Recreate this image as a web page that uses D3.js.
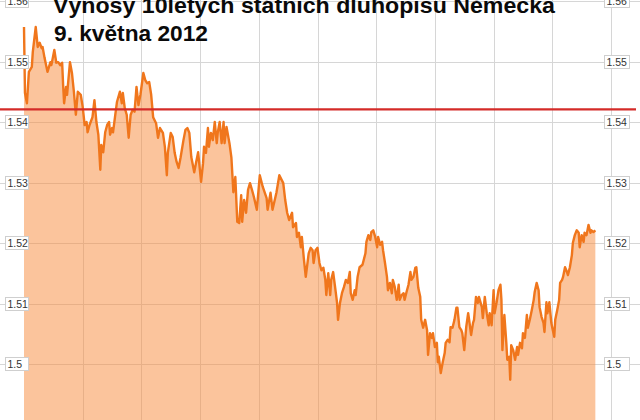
<!DOCTYPE html>
<html>
<head>
<meta charset="utf-8">
<script src="https://cdn.jsdelivr.net/npm/d3@7"></script>
<style>
  html, body { margin: 0; padding: 0; background: #fff; }
  svg { display: block; }
  text { font-family: "Liberation Sans", Arial, sans-serif; }
</style>
</head>
<body>
<div id="chart"></div>
<script>
// ---- data ----
const titleLines = ["Výnosy 10letých státních dluhopisů Německa", "9. května 2012"];
const sessionDate = [2012, 4, 9];          // 9 May 2012
const sessionStartHour = 8;
const sessionEndHour = 18;
// minutes after 08:00
const minutes = [
  0,1,3,5,8,9,12,14,16,18,
  19,21,24,27,28,31,33,35,37,39,
  40,41,43,44,47,49,51,53,55,58,
  60,62,64,65,67,70,72,74,76,78,
  79,81,83,85,87,88,90,91,93,95,
  98,100,101,103,105,107,109,111,113,115,
  117,119,122,124,126,128,130,132,135,137,
  139,142,144,146,147,150,152,154,156,158,
  160,163,165,167,169,171,174,176,178,181,
  183,184,186,188,189,191,193,195,197,198,
  200,202,204,205,207,210,212,214,216,218,
  220,222,223,225,227,229,231,233,235,238,
  241,244,248,249,252,254,258,261,265,267,
  269,271,274,275,278,279,281,283,284,286,
  288,291,293,295,296,298,300,302,304,306,
  308,309,311,313,314,316,318,320,321,323,
  325,327,329,331,333,334,336,338,339,341,
  343,346,349,350,352,354,355,357,359,361,
  362,364,366,367,369,371,372,374,376,377,
  379,381,383,384,386,388,389,391,393,395,
  396,398,400,401,403,405,406,408,410,412,
  413,415,417,418,420,422,423,424,426,428,
  430,431,433,435,436,438,440,442,443,445,
  447,448,450,452,454,455,457,459,460,462,
  464,465,468,469,471,473,475,476,478,480,
  481,483,485,487,488,489,491,493,494,496,
  497,498,500,502,504,505,507,509,510,512,
  514,515,517,519,521,522,524,526,527,529,
  531,532,534,535,537,539,540,542,543,545,
  547,548,550,551,553,555,556,558,560,561,
  563,565,567,568,570,572,573,575,577,579,
  580,582,584
];
// 10-year Bund yield, %
const yields = [
  1.5557,1.5448,1.5431,1.5483,1.5491,1.5516,1.5557,1.5524,1.5531,1.5522,
  1.5524,1.5506,1.5483,1.5499,1.5494,1.5519,1.5498,1.5499,1.5494,1.5498,
  1.5461,1.5431,1.5458,1.5445,1.5499,1.5481,1.5450,1.5412,1.5450,1.5445,
  1.5425,1.5395,1.5400,1.5383,1.5395,1.5408,1.5436,1.5400,1.5379,1.5321,
  1.5362,1.5350,1.5383,1.5395,1.5400,1.5379,1.5390,1.5383,1.5408,1.5433,
  1.5450,1.5431,1.5448,1.5423,1.5412,1.5374,1.5412,1.5420,1.5417,1.5458,
  1.5428,1.5445,1.5481,1.5469,1.5464,1.5466,1.5445,1.5408,1.5398,1.5374,
  1.5390,1.5382,1.5359,1.5312,1.5349,1.5382,1.5375,1.5349,1.5334,1.5324,
  1.5341,1.5370,1.5387,1.5390,1.5382,1.5342,1.5317,1.5334,1.5350,1.5301,
  1.5332,1.5359,1.5349,1.5390,1.5359,1.5382,1.5370,1.5400,1.5365,1.5382,
  1.5400,1.5365,1.5400,1.5365,1.5392,1.5365,1.5341,1.5284,1.5309,1.5235,
  1.5233,1.5279,1.5235,1.5271,1.5250,1.5288,1.5299,1.5288,1.5276,1.5255,
  1.5312,1.5293,1.5274,1.5255,1.5283,1.5255,1.5283,1.5312,1.5299,1.5271,
  1.5250,1.5238,1.5250,1.5226,1.5233,1.5210,1.5217,1.5193,1.5210,1.5175,
  1.5144,1.5183,1.5192,1.5188,1.5167,1.5188,1.5192,1.5167,1.5155,1.5159,
  1.5139,1.5114,1.5150,1.5114,1.5139,1.5152,1.5127,1.5101,1.5073,1.5101,
  1.5117,1.5127,1.5139,1.5134,1.5152,1.5117,1.5106,1.5122,1.5114,1.5144,
  1.5160,1.5164,1.5183,1.5202,1.5213,1.5205,1.5218,1.5221,1.5210,1.5193,
  1.5210,1.5197,1.5202,1.5188,1.5167,1.5144,1.5122,1.5134,1.5117,1.5139,
  1.5127,1.5106,1.5131,1.5106,1.5114,1.5117,1.5106,1.5119,1.5131,1.5152,
  1.5139,1.5144,1.5159,1.5160,1.5126,1.5111,1.5073,1.5060,1.5073,1.5056,
  1.5015,1.5051,1.5043,1.5051,1.5028,1.5035,1.5003,1.5012,1.4985,1.5003,
  1.5018,1.5035,1.5040,1.5036,1.5061,1.5060,1.5073,1.5093,1.5093,1.5061,
  1.5056,1.5051,1.5023,1.5061,1.5084,1.5073,1.5048,1.5068,1.5073,1.5111,
  1.5101,1.5111,1.5094,1.5076,1.5111,1.5084,1.5064,1.5084,1.5064,1.5122,
  1.5084,1.5101,1.5122,1.5131,1.5106,1.5023,1.5081,1.5035,1.5007,1.5012,
  1.4974,1.5031,1.5023,1.5007,1.5028,1.5015,1.5035,1.5026,1.5051,1.5043,
  1.5081,1.5060,1.5073,1.5089,1.5106,1.5119,1.5134,1.5122,1.5094,1.5078,
  1.5068,1.5053,1.5102,1.5084,1.5102,1.5068,1.5060,1.5045,1.5073,1.5089,
  1.5106,1.5134,1.5139,1.5144,1.5160,1.5152,1.5147,1.5160,1.5180,1.5200,
  1.5213,1.5221,1.5217,1.5193,1.5213,1.5202,1.5217,1.5213,1.5230,1.5217,
  1.5221,1.5218,1.5221
];
const yTicks = [1.50, 1.51, 1.52, 1.53, 1.54, 1.55, 1.56];
const referenceLevel = [1.5421];   // red horizontal line
const yDomain = [1.49, 1.56];

// ---- chart ----
const W = 640, H = 420;
const svg = d3.select("#chart").append("svg").attr("width", W).attr("height", H);
svg.append("rect").attr("width", W).attr("height", H).attr("fill", "#fff");

const t0 = new Date(sessionDate[0], sessionDate[1], sessionDate[2], sessionStartHour, 0);
const t1 = new Date(sessionDate[0], sessionDate[1], sessionDate[2], sessionEndHour, 0);
const x = d3.scaleTime().domain([t0, t1]).range([24, 611]);
const y = d3.scaleLinear().domain(yDomain).range([424.5, 1]);

const data = minutes.map((m, i) => ({ t: d3.timeMinute.offset(t0, m), v: yields[i] }));

// grid
const hours = d3.timeHour.range(d3.timeHour.offset(t0, 1), d3.timeHour.offset(t1, 1));
svg.append("g").selectAll("line").data(hours).join("line")
  .attr("x1", d => Math.round(x(d)) + 0.5).attr("x2", d => Math.round(x(d)) + 0.5)
  .attr("y1", 0).attr("y2", H)
  .attr("stroke", "#d6d6d6").attr("stroke-width", 1);
svg.append("g").selectAll("line").data(yTicks).join("line")
  .attr("x1", 0).attr("x2", W)
  .attr("y1", d => Math.round(y(d)) + 0.5).attr("y2", d => Math.round(y(d)) + 0.5)
  .attr("stroke", "#d6d6d6").attr("stroke-width", 1);

// area
const area = d3.area().x(d => x(d.t)).y0(y(yDomain[0])).y1(d => y(d.v));
svg.append("path").datum(data).attr("d", area)
  .attr("fill", "#f7893a").attr("fill-opacity", 0.5);

// line
const line = d3.line().x(d => x(d.t)).y(d => y(d.v));
svg.append("path").datum(data).attr("d", line)
  .attr("fill", "none").attr("stroke", "#f0761c").attr("stroke-width", 2.4)
  .attr("stroke-linejoin", "round");

// red reference line
svg.append("g").selectAll("line").data(referenceLevel).join("line")
  .attr("x1", 0).attr("x2", 636)
  .attr("y1", d => y(d)).attr("y2", d => y(d))
  .attr("stroke", "#d42b28").attr("stroke-width", 2.2);

// axis labels (left and right) with boxes
const fmt = v => String(+v.toFixed(2));
function labels(xLeft, boxW) {
  const g = svg.append("g").selectAll("g").data(yTicks).join("g")
    .attr("transform", d => `translate(${xLeft},${Math.round(y(d))})`);
  g.append("rect").attr("x", 0.5).attr("y", -6.5).attr("width", boxW).attr("height", 13)
    .attr("fill", "#fff").attr("stroke", "#cfcfcf").attr("stroke-width", 1);
  g.append("text").attr("x", 2.5).attr("y", 4).attr("font-size", 10.5)
    .attr("fill", "#333").text(fmt);
}
labels(5, 23);
labels(604, 25);

// title
const title = svg.append("g");
title.append("text").attr("x", 53).attr("y", 13.3).attr("font-size", 22.5).attr("font-weight", "bold")
  .attr("fill", "#0a0a0a").attr("textLength", 502).attr("lengthAdjust", "spacingAndGlyphs").text(titleLines[0]);
title.append("text").attr("x", 54).attr("y", 41).attr("font-size", 22.5).attr("font-weight", "bold")
  .attr("fill", "#0a0a0a").attr("textLength", 154).attr("lengthAdjust", "spacingAndGlyphs").text(titleLines[1]);
</script>
</body>
</html>
